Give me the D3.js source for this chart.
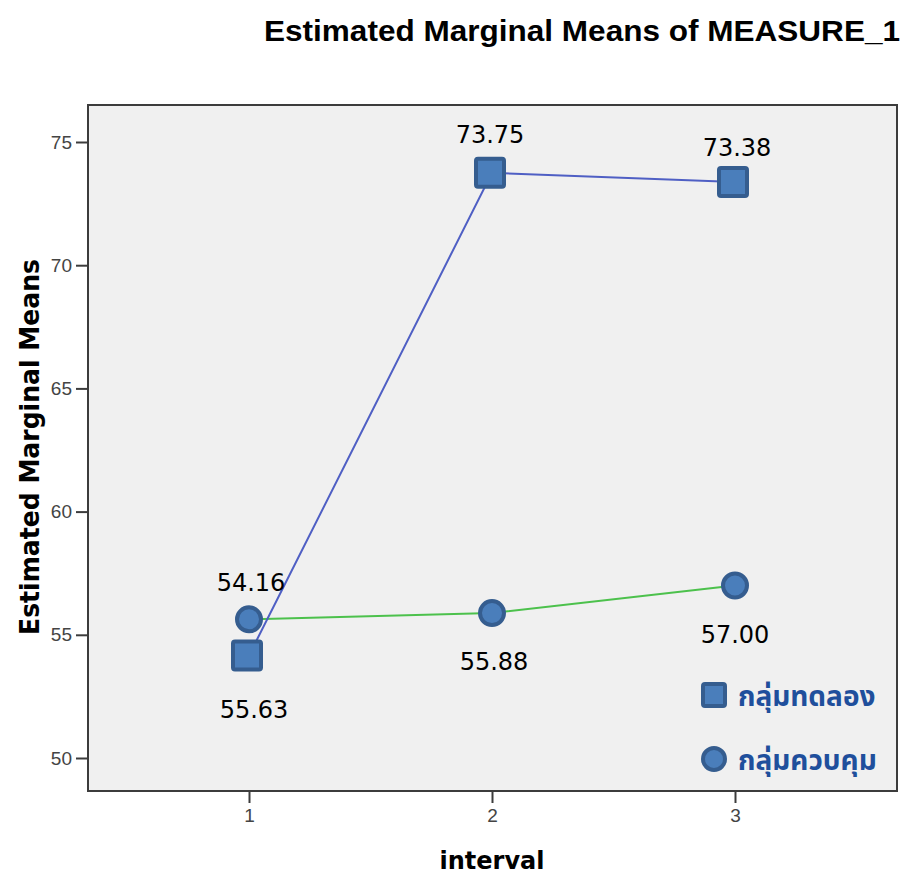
<!DOCTYPE html>
<html><head><meta charset="utf-8">
<script src="https://cdn.jsdelivr.net/npm/d3@7"></script>
<style>body{margin:0;background:#fff}</style>
</head><body>
<script>
const categories = [1, 2, 3];
const seriesNames = ["กลุ่มทดลอง", "กลุ่มควบคุม"];
const experimental = [54.16, 73.75, 73.38];
const control = [55.63, 55.88, 57.00];
const yTicks = [50, 55, 60, 65, 70, 75];
const labelTexts = ["54.16", "73.75", "73.38", "55.63", "55.88", "57.00"];

const W = 905, H = 876;
const svg = d3.select("body").append("svg").attr("width", W).attr("height", H);
const plot = {l: 88, r: 897, t: 105, b: 791};

const x = d3.scaleLinear().domain([1, 3]).range([249, 735]);
const y = d3.scaleLinear().domain([50, 75]).range([758, 142]);

svg.append("rect").attr("x", plot.l).attr("y", plot.t)
  .attr("width", plot.r - plot.l).attr("height", plot.b - plot.t)
  .attr("fill", "#f0f0f0").attr("stroke", "#3c3c3c").attr("stroke-width", 2);

// y axis
const ya = svg.append("g").attr("transform", `translate(${plot.l},0)`)
  .call(d3.axisLeft(y).tickValues(yTicks).tickSize(12).tickPadding(4));
ya.select(".domain").remove();
ya.selectAll("line").attr("stroke", "#3c3c3c").attr("stroke-width", 2);
ya.selectAll("text").attr("font-family", "Liberation Sans, Arial, sans-serif").attr("font-size", 19).attr("fill", "#444");

// x axis
const xa = svg.append("g").attr("transform", `translate(0,${plot.b})`)
  .call(d3.axisBottom(x).tickValues(categories).tickFormat(d3.format("d")).tickSize(12).tickPadding(6));
xa.select(".domain").remove();
xa.selectAll("line").attr("stroke", "#3c3c3c").attr("stroke-width", 2);
xa.selectAll("text").attr("font-family", "Liberation Sans, Arial, sans-serif").attr("font-size", 19).attr("fill", "#444");

// titles
svg.append("text").attr("x", 582).attr("y", 41).attr("text-anchor", "middle")
  .attr("font-family", "Liberation Sans, Arial, sans-serif").attr("font-weight", "bold")
  .attr("font-size", 29).attr("textLength", 636).attr("lengthAdjust", "spacingAndGlyphs")
  .attr("fill", "#000").text("Estimated Marginal Means of MEASURE_1");
svg.append("text").attr("transform", "translate(39,447) rotate(-90)").attr("text-anchor", "middle")
  .attr("font-family", "DejaVu Sans Condensed, DejaVu Sans, sans-serif").attr("font-weight", "bold")
  .attr("font-size", 27).attr("textLength", 376).attr("lengthAdjust", "spacingAndGlyphs")
  .attr("fill", "#000").text("Estimated Marginal Means");
svg.append("text").attr("x", 492).attr("y", 869).attr("text-anchor", "middle")
  .attr("font-family", "DejaVu Sans, sans-serif").attr("font-weight", "bold")
  .attr("font-size", 24).attr("fill", "#000").text("interval");

const line = d3.line().x((d, i) => x(categories[i])).y(d => y(d));
svg.append("path").datum(control).attr("d", line).attr("fill", "none")
  .attr("stroke", "#4cc14c").attr("stroke-width", 2);
svg.append("path").datum(experimental).attr("d", line).attr("fill", "none")
  .attr("stroke", "#4f5fc4").attr("stroke-width", 2);

const fill = "#4a7ebb", stroke = "#355d8f";
const sq = 28;
svg.selectAll(".c").data(control).enter().append("circle")
  .attr("cx", (d, i) => x(categories[i])).attr("cy", d => y(d)).attr("r", 12)
  .attr("fill", fill).attr("stroke", stroke).attr("stroke-width", 4);
svg.selectAll(".s").data(experimental).enter().append("rect")
  .attr("x", (d, i) => x(categories[i]) - sq / 2 - 2).attr("y", d => y(d) - sq / 2)
  .attr("width", sq).attr("height", sq).attr("rx", 2)
  .attr("fill", fill).attr("stroke", stroke).attr("stroke-width", 4);

// value labels
const labels = [
  {t: labelTexts[0], cx: x(1) + 2, cy: y(control[0]) - 28},
  {t: labelTexts[1], cx: x(2) - 2, cy: y(experimental[1]) - 30},
  {t: labelTexts[2], cx: x(3) + 2, cy: y(experimental[2]) - 26},
  {t: labelTexts[3], cx: x(1) + 5, cy: y(experimental[0]) + 63},
  {t: labelTexts[4], cx: x(2) + 2, cy: y(control[1]) + 57},
  {t: labelTexts[5], cx: x(3), cy: y(control[2]) + 57},
];
svg.selectAll(".lbl").data(labels).enter().append("text")
  .attr("x", d => d.cx).attr("y", d => d.cy).attr("text-anchor", "middle")
  .attr("font-family", "DejaVu Sans, sans-serif").attr("font-size", 24).attr("fill", "#000")
  .text(d => d.t);

// legend
const lg = svg.append("g");
lg.append("rect").attr("x", 703).attr("y", 684).attr("width", 22).attr("height", 22).attr("rx", 2)
  .attr("fill", fill).attr("stroke", stroke).attr("stroke-width", 4);
lg.append("circle").attr("cx", 714).attr("cy", 759).attr("r", 11)
  .attr("fill", fill).attr("stroke", stroke).attr("stroke-width", 4);
lg.selectAll(".lt").data(seriesNames).enter().append("text")
  .attr("x", 738).attr("y", (d, i) => 706 + i * 64)
  .attr("font-family", "Noto Sans Thai, Noto Sans, sans-serif").attr("font-weight", "bold")
  .attr("font-size", 28).attr("fill", "#1f4f9c").text(d => d);
</script>
</body></html>
